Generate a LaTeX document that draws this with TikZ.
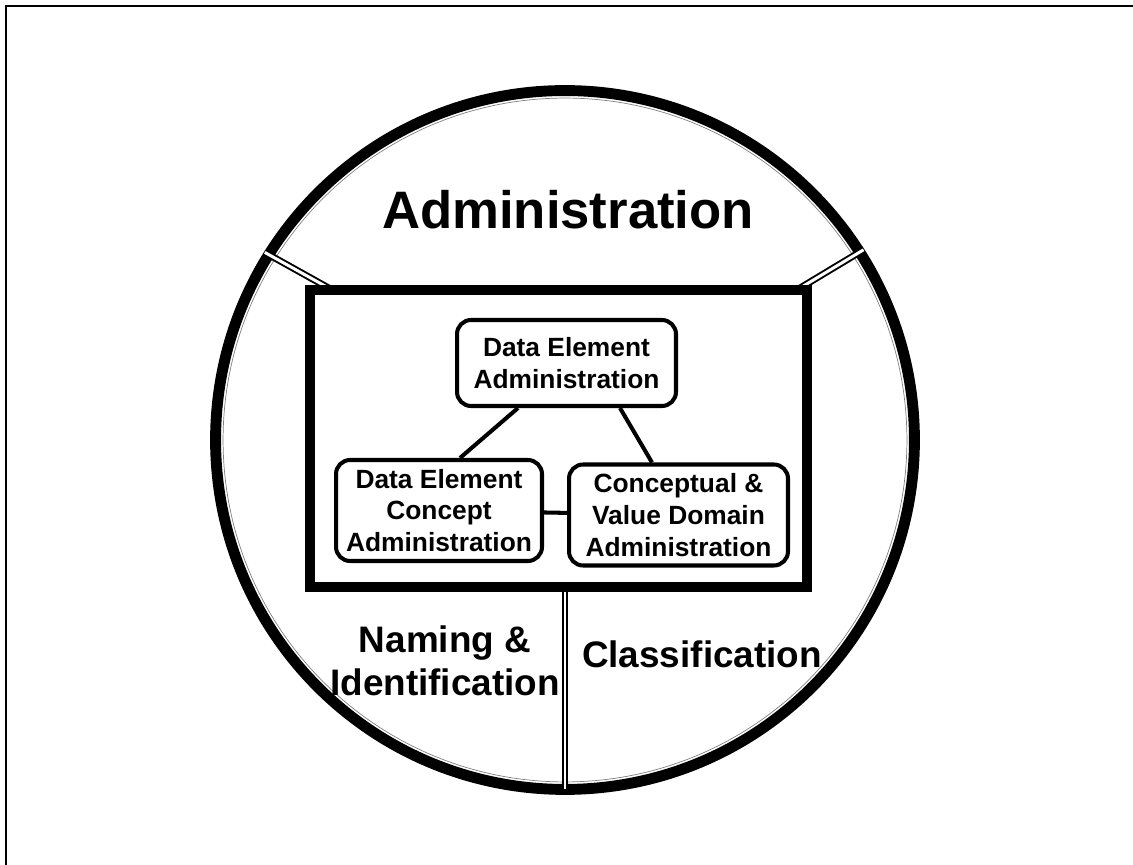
\documentclass[tikz,border=0pt]{standalone}
\usepackage{fontspec}
\setmainfont{Liberation Sans}
\begin{document}
\begin{tikzpicture}[x=0.02cm,y=0.02cm,
    part/.style={draw,line width=2.3pt,rounded corners=8pt,align=center,inner sep=0pt,
      font=\fontsize{15}{18}\selectfont\bfseries},
    link/.style={line width=2.3pt},
    wall/.style={draw,double=white,line width=1.1pt,double distance=1.7pt},
    area/.style={align=center,font=\fontsize{21}{24.5}\selectfont\bfseries}]
  \useasboundingbox (0,0) rectangle (1133,865);
  \draw[line width=1.4pt] (6,-20) -- (6,859) -- (1150,859);
  \coordinate (c) at (565,425);
  \draw[line width=6.2pt] (c) circle[radius=6.99cm];
  \draw[gray,line width=0.4pt] (c) circle[radius=6.84cm];
  \node[minimum width=9.94cm,minimum height=5.94cm] (board) at (558.5,426.5) {};
  \path[wall] ([shift={(148:354)}]c) -- ([shift={(22,0)}]board.north west);
  \path[wall] ([shift={(32.5:354)}]c) -- ([shift={(-10,0)}]board.north east);
  \path[wall] (board.south -| c) -- ([shift={(0,-349.5)}]c);
  \draw[line width=5.7pt] (board.south west) rectangle (board.north east);
  \node[font=\fontsize{30}{36}\selectfont\bfseries] (admin) at (568,655) {Administration};
  \node[part,minimum width=4.38cm,minimum height=1.72cm] (dea) at (566.5,502) {Data Element\\Administration};
  \node[part,minimum width=4.12cm,minimum height=2.02cm] (dec) at (439,354.5) {Data Element\\Concept\\Administration};
  \node[part,minimum width=4.38cm,minimum height=2.02cm] (cvd) at (678.5,350) {Conceptual \&\\Value Domain\\Administration};
  \begin{scope}[link]
    \draw ([shift={(-48.5,0)}]dea.south) -- ([shift={(21,0)}]dec.north);
    \draw ([shift={(53.5,0)}]dea.south) -- ([shift={(-26.5,0)}]cvd.north);
    \draw (dec) -- (cvd);
  \end{scope}
  \node[area] (naming) at (445,204) {Naming \&\\Identification};
  \node[area] (class) at (702,211) {Classification};
\end{tikzpicture}
\end{document}
